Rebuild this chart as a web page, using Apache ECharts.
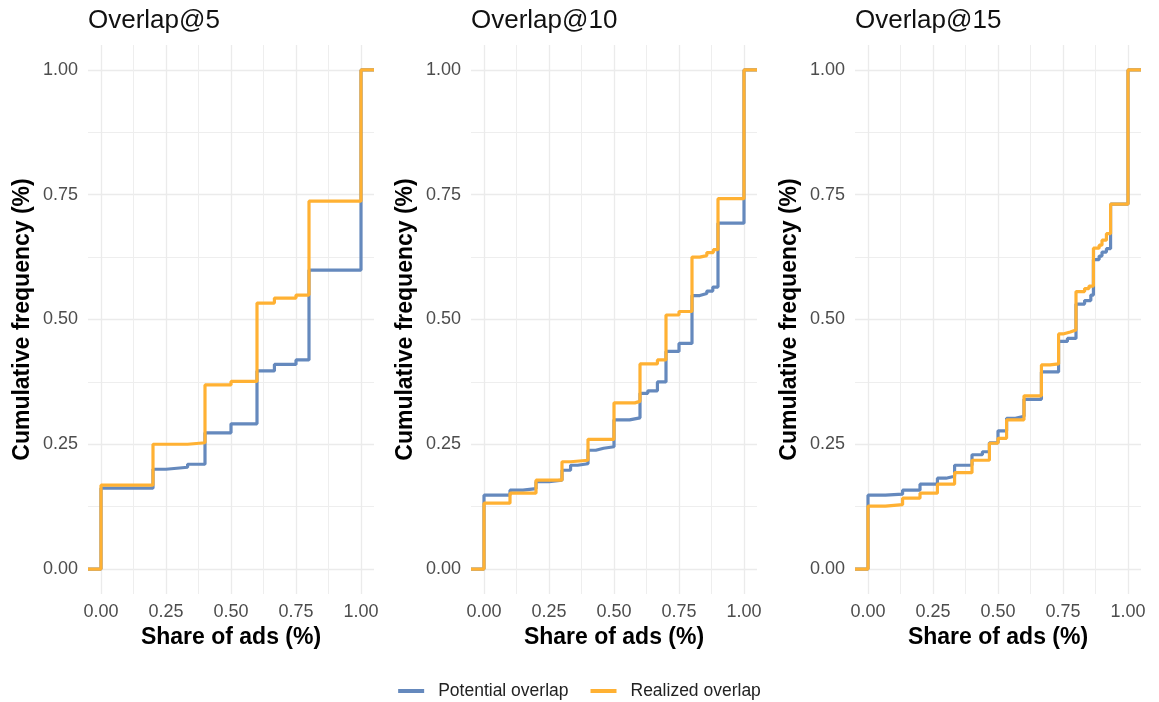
<!DOCTYPE html>
<html>
<head>
<meta charset="utf-8">
<script src="https://cdn.jsdelivr.net/npm/echarts@6/dist/echarts.min.js"></script>
<style>
html,body{margin:0;padding:0;background:#fff;}
#chart{width:1159px;height:702px;}
</style>
</head>
<body>
<div id="chart"></div>
<script>
// ---------- data ----------
const panelTitles = ['Overlap@5', 'Overlap@10', 'Overlap@15'];
const seriesNames = ['Potential overlap', 'Realized overlap'];
const majorTicks = [0, 0.25, 0.5, 0.75, 1];
const minorTicks = [0.125, 0.375, 0.625, 0.875];

// Overlap@5
const p5PotentialX = [0, 0.2, 0.25, 0.333, 0.4, 0.5, 0.6, 0.667, 0.75, 0.8, 1.0];
const p5PotentialY = [0.162, 0.200, 0.204, 0.210, 0.273, 0.291, 0.397, 0.410, 0.419, 0.599, 1.0];
const p5RealizedX = [0, 0.2, 0.333, 0.4, 0.5, 0.6, 0.667, 0.75, 0.8, 1.0];
const p5RealizedY = [0.168, 0.250, 0.253, 0.369, 0.376, 0.533, 0.543, 0.549, 0.737, 1.0];

// Overlap@10
const p10PotentialX = [0, 0.1, 0.15, 0.2, 0.25, 0.3, 0.333, 0.36, 0.4, 0.43, 0.46, 0.5, 0.56, 0.6, 0.63, 0.667, 0.7, 0.75, 0.8, 0.83, 0.857, 0.88, 0.9, 1.0];
const p10PotentialY = [0.148, 0.158, 0.161, 0.175, 0.178, 0.198, 0.208, 0.211, 0.238, 0.242, 0.245, 0.299, 0.303, 0.352, 0.357, 0.375, 0.436, 0.452, 0.548, 0.552, 0.557, 0.565, 0.693, 1.0];
const p10RealizedX = [0, 0.1, 0.2, 0.3, 0.333, 0.4, 0.5, 0.58, 0.6, 0.667, 0.7, 0.75, 0.8, 0.83, 0.857, 0.882, 0.9, 1.0];
const p10RealizedY = [0.132, 0.152, 0.178, 0.215, 0.218, 0.260, 0.333, 0.336, 0.411, 0.419, 0.509, 0.516, 0.625, 0.628, 0.634, 0.640, 0.742, 1.0];

// Overlap@15
const p15PotentialX = [0, 0.067, 0.133, 0.2, 0.267, 0.3, 0.333, 0.4, 0.44, 0.467, 0.5, 0.533, 0.567, 0.6, 0.667, 0.733, 0.767, 0.8, 0.833, 0.857, 0.867, 0.889, 0.9, 0.917, 0.933, 1.0];
const p15PotentialY = [0.148, 0.150, 0.158, 0.170, 0.182, 0.186, 0.208, 0.229, 0.235, 0.253, 0.277, 0.302, 0.306, 0.340, 0.395, 0.456, 0.462, 0.531, 0.538, 0.549, 0.620, 0.627, 0.635, 0.642, 0.731, 1.0];
const p15RealizedX = [0, 0.067, 0.133, 0.2, 0.267, 0.333, 0.4, 0.467, 0.5, 0.533, 0.6, 0.667, 0.7, 0.733, 0.75, 0.778, 0.8, 0.833, 0.85, 0.867, 0.889, 0.9, 0.917, 0.933, 1.0];
const p15RealizedY = [0.126, 0.129, 0.142, 0.152, 0.170, 0.193, 0.218, 0.252, 0.262, 0.299, 0.347, 0.409, 0.411, 0.471, 0.475, 0.479, 0.556, 0.562, 0.567, 0.643, 0.649, 0.659, 0.672, 0.731, 1.0];

const panels = [
  [[p5PotentialX, p5PotentialY], [p5RealizedX, p5RealizedY]],
  [[p10PotentialX, p10PotentialY], [p10RealizedX, p10RealizedY]],
  [[p15PotentialX, p15PotentialY], [p15RealizedX, p15RealizedY]]
];

// ---------- styling / layout ----------
const FONT = 'Liberation Sans, Arial, sans-serif';
const COLORS = ['#6589BD', '#FFB133'];
const AX_MIN = -0.05, AX_MAX = 1.05;
const gridLefts = [88, 471, 855];
const GRID_TOP = 45, GRID_W = 286, GRID_H = 549;

const grid = [], xAxis = [], yAxis = [], series = [], title = [];

gridLefts.forEach((left, i) => {
  grid.push({left: left, top: GRID_TOP, width: GRID_W, height: GRID_H, containLabel: false});
  title.push({
    text: panelTitles[i], left: left, top: 8, padding: 0,
    textStyle: {fontFamily: FONT, fontSize: 26, fontWeight: 'normal', color: '#111'}
  });
  // major x axis
  xAxis.push({
    type: 'value', gridIndex: i, min: AX_MIN, max: AX_MAX, position: 'bottom',
    axisLine: {show: false},
    axisTick: {show: false, customValues: majorTicks},
    axisLabel: {customValues: majorTicks, formatter: v => v.toFixed(2), color: '#4d4d4d',
                fontFamily: FONT, fontSize: 18, margin: 9},
    splitLine: {show: true, lineStyle: {color: '#ebebeb', width: 1.3}},
    name: 'Share of ads (%)', nameLocation: 'middle', nameGap: 32,
    nameTextStyle: {fontFamily: FONT, fontSize: 23, fontWeight: 'bold', color: '#000'}
  });
  // minor x axis (grid lines only)
  xAxis.push({
    type: 'value', gridIndex: i, min: AX_MIN, max: AX_MAX, position: 'top',
    axisLine: {show: false},
    axisTick: {show: false, customValues: minorTicks},
    axisLabel: {show: false},
    splitLine: {show: true, lineStyle: {color: '#eeeeee', width: 1}}
  });
  // major y axis
  yAxis.push({
    type: 'value', gridIndex: i, min: AX_MIN, max: AX_MAX, position: 'left',
    axisLine: {show: false},
    axisTick: {show: false, customValues: majorTicks},
    axisLabel: {customValues: majorTicks, formatter: v => v.toFixed(2), color: '#4d4d4d',
                fontFamily: FONT, fontSize: 18, margin: 10},
    splitLine: {show: true, lineStyle: {color: '#ebebeb', width: 1.3}},
    name: 'Cumulative frequency (%)', nameLocation: 'middle', nameGap: 54,
    nameTextStyle: {fontFamily: FONT, fontSize: 23, fontWeight: 'bold', color: '#000'}
  });
  // minor y axis
  yAxis.push({
    type: 'value', gridIndex: i, min: AX_MIN, max: AX_MAX, position: 'right',
    axisLine: {show: false},
    axisTick: {show: false, customValues: minorTicks},
    axisLabel: {show: false},
    splitLine: {show: true, lineStyle: {color: '#eeeeee', width: 1}}
  });

  panels[i].forEach((pair, s) => {
    const xs = pair[0], ys = pair[1];
    // ECDF is padded from the left edge at 0 to the right edge at 1 (as ggplot's stat_ecdf)
    const data = [[AX_MIN, 0]].concat(xs.map((x, k) => [x, ys[k]])).concat([[AX_MAX, ys[ys.length - 1]]]);
    series.push({
      name: seriesNames[s], type: 'line', step: 'end',
      xAxisIndex: i * 2, yAxisIndex: i * 2,
      data: data, showSymbol: false, symbol: 'none', silent: true, animation: false,
      lineStyle: {color: COLORS[s], width: 3.2},
      itemStyle: {color: COLORS[s]},
      z: 2 + s
    });
  });
});

const chart = echarts.init(document.getElementById('chart'), null, {renderer: 'canvas'});
chart.setOption({
  backgroundColor: '#ffffff',
  animation: false,
  title: title,
  grid: grid,
  xAxis: xAxis,
  yAxis: yAxis,
  legend: {
    data: seriesNames, left: 'center', top: 677,
    icon: 'rect', itemWidth: 26, itemHeight: 4, itemGap: 22,
    textStyle: {fontFamily: FONT, fontSize: 17.5, color: '#222', padding: [0, 0, 0, 9]}
  },
  series: series
});
</script>
</body>
</html>
